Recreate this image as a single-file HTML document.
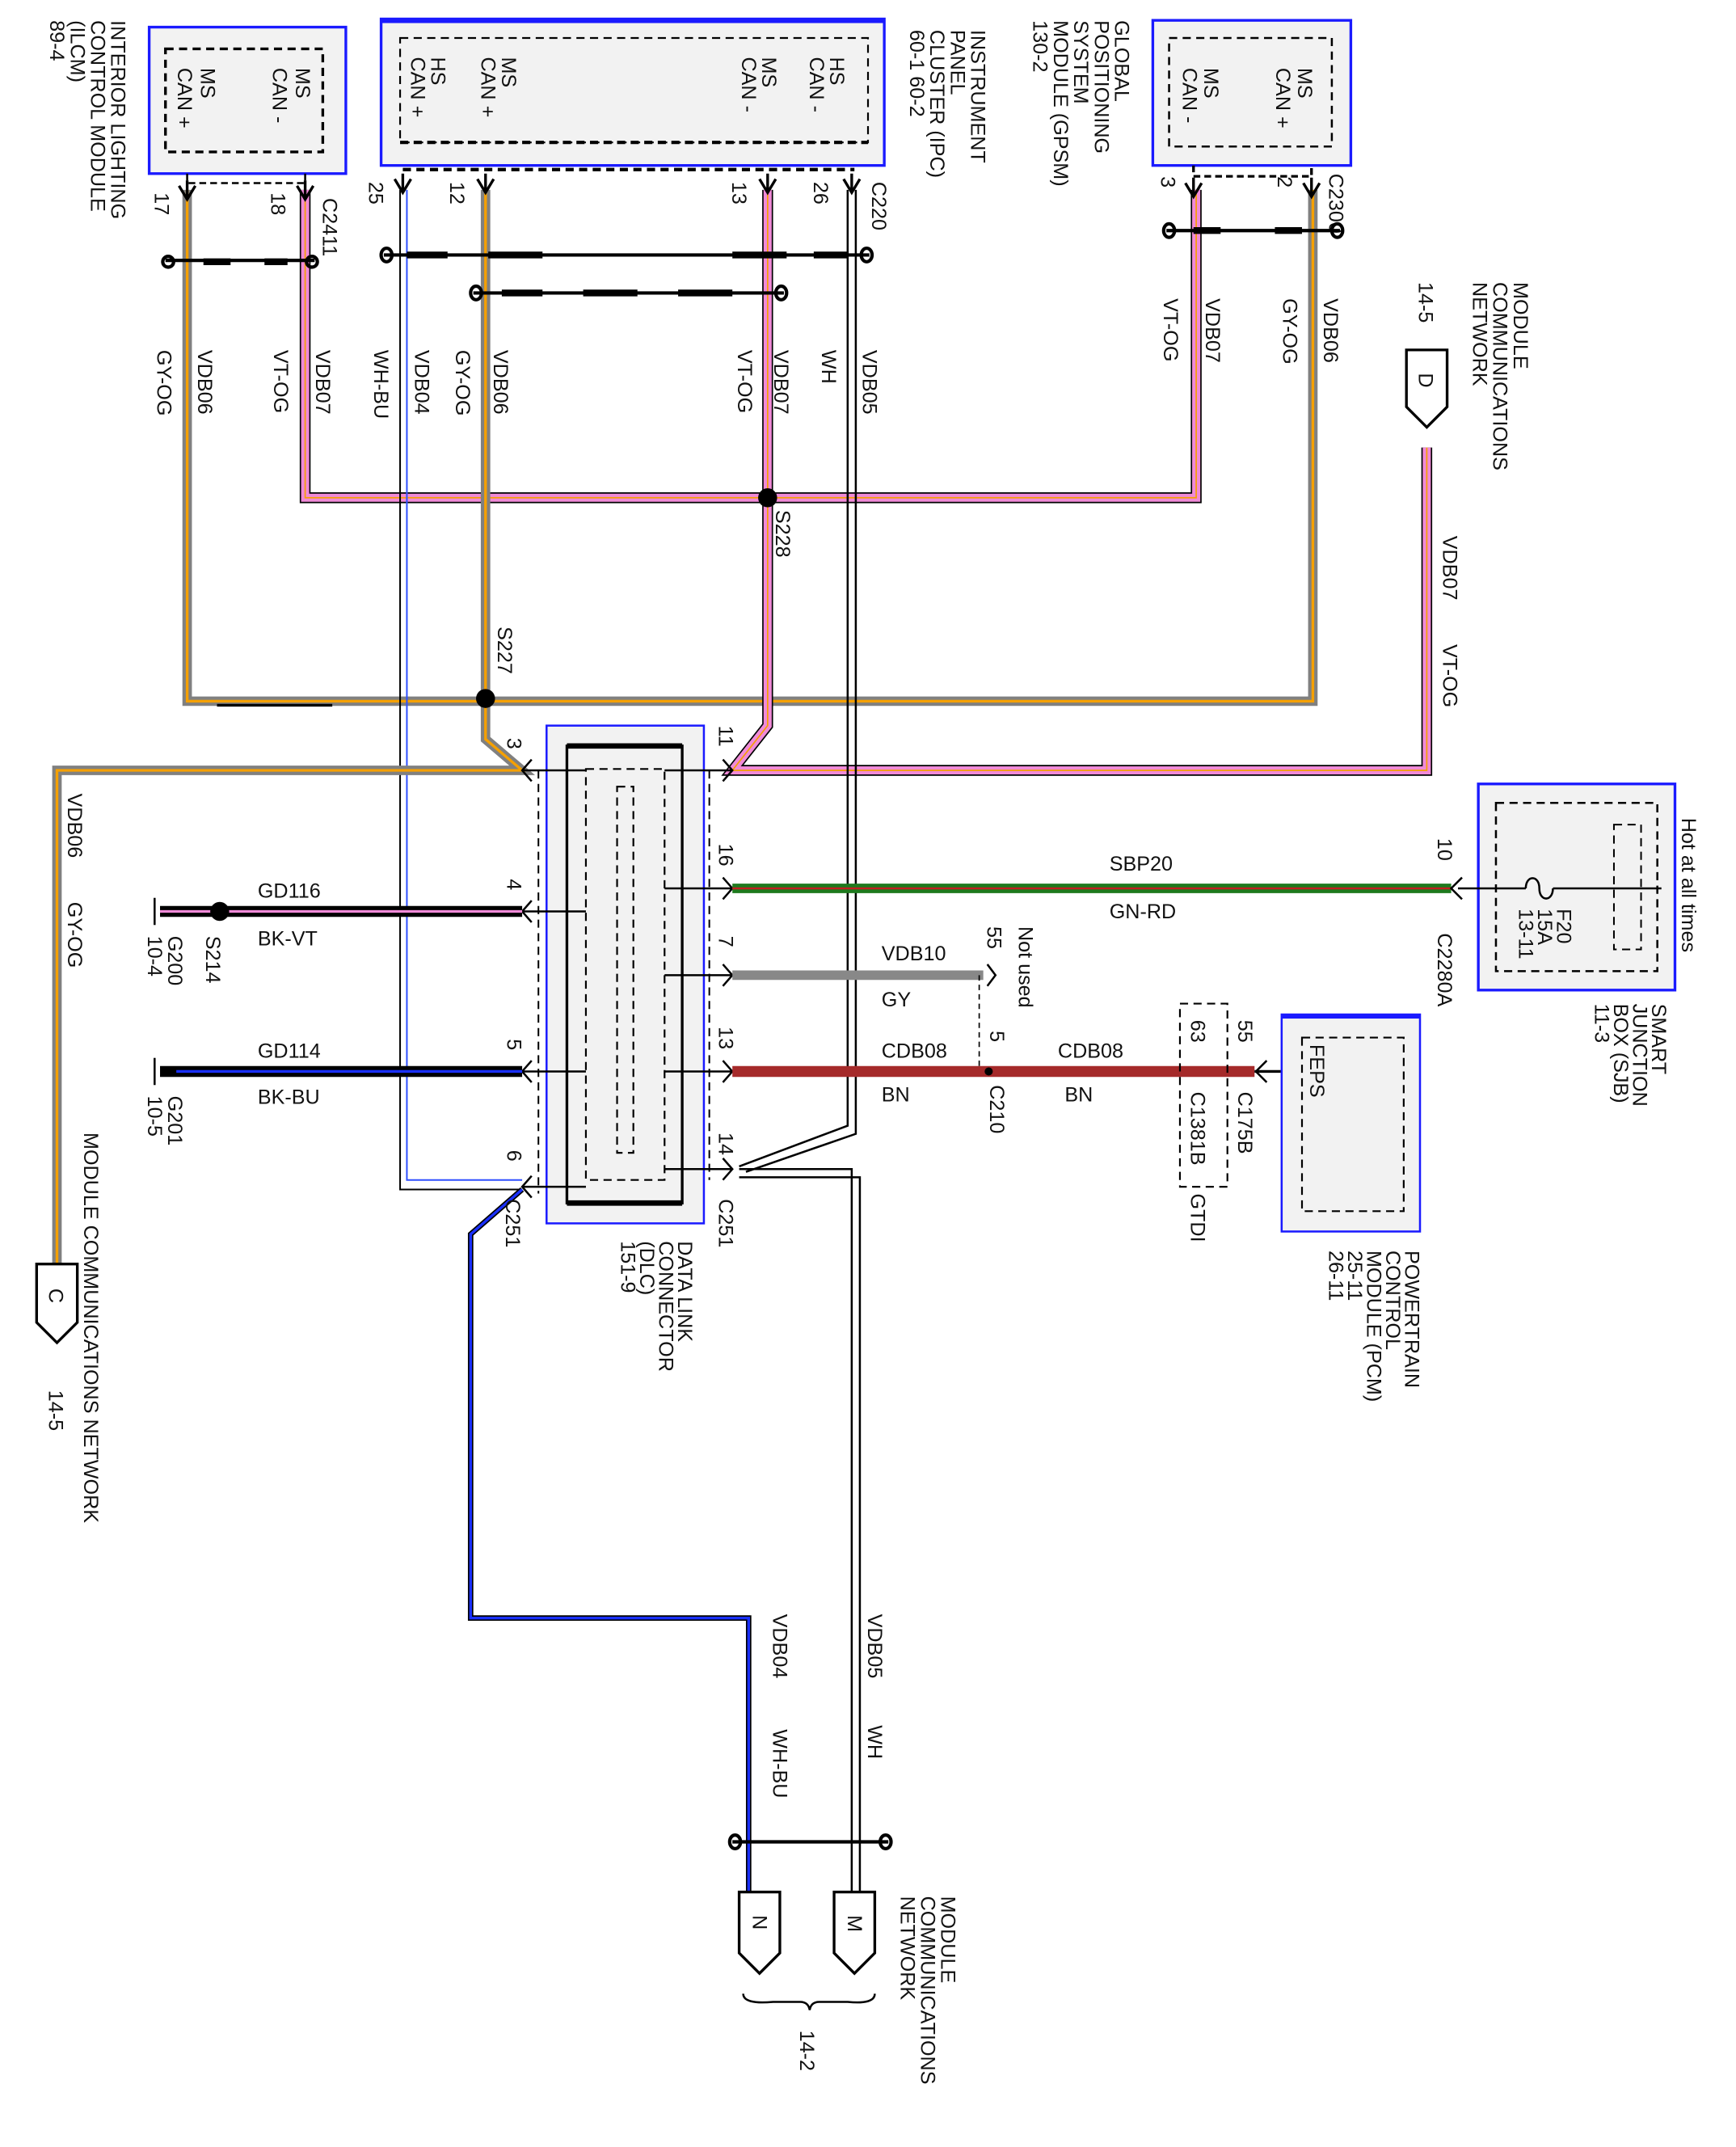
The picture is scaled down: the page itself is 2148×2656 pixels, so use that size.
<!DOCTYPE html>
<html><head><meta charset="utf-8"><style>
html,body{margin:0;padding:0;background:#fff;}
svg{display:block}
text{font-family:"Liberation Sans",sans-serif;fill:#111;}
</style></head><body>
<svg width="2148" height="2656" viewBox="0 0 1280 1583" preserveAspectRatio="none" xmlns="http://www.w3.org/2000/svg">
<defs>
<g id="dn"><path d="M-6,-8 L0,2 L6,-8 M0,-12 L0,2" stroke="#000" stroke-width="2" fill="none"/></g>
</defs>
<g font-size="15">
<!-- ILCM -->
<rect x="110" y="20" width="145" height="108" fill="#f2f2f2" stroke="#1a1aff" stroke-width="2"/>
<rect x="122" y="36" width="116" height="76" fill="none" stroke="#000" stroke-width="2" stroke-dasharray="6,4"/>
<text transform="translate(148,50) rotate(90)">MS<tspan x="0" dy="17">CAN +</tspan></text>
<text transform="translate(218,50) rotate(90)">MS<tspan x="0" dy="17">CAN -</tspan></text>
<text transform="translate(82,15) rotate(90)">INTERIOR LIGHTING<tspan x="0" dy="15">CONTROL MODULE</tspan><tspan x="0" dy="15">(ILCM)</tspan><tspan x="0" dy="15">89-4</tspan></text>
<path d="M138,128 V135 H225 V128" stroke="#000" stroke-width="1.5" fill="none" stroke-dasharray="5,3"/>
<text transform="translate(114,142) rotate(90)">17</text>
<text transform="translate(200,142) rotate(90)">18</text>
<text transform="translate(238,146) rotate(90)">C2411</text>

<!-- IPC -->
<rect x="281" y="14" width="371" height="108" fill="#f2f2f2" stroke="#1a1aff" stroke-width="2"/>
<rect x="281" y="14" width="371" height="3" fill="#1a1aff"/>
<rect x="295" y="28" width="345" height="77" fill="none" stroke="#000" stroke-width="1.3" stroke-dasharray="6,4"/>
<path d="M295,105 H640" stroke="#000" stroke-width="2.5" stroke-dasharray="6,4"/>
<path d="M297,125 H630" stroke="#000" stroke-width="2.5" stroke-dasharray="6,4"/>
<text transform="translate(318,42) rotate(90)">HS<tspan x="0" dy="15">CAN +</tspan></text>
<text transform="translate(370,42) rotate(90)">MS<tspan x="0" dy="15">CAN +</tspan></text>
<text transform="translate(562,42) rotate(90)">MS<tspan x="0" dy="15">CAN -</tspan></text>
<text transform="translate(612,42) rotate(90)">HS<tspan x="0" dy="15">CAN -</tspan></text>
<text transform="translate(272,134) rotate(90)">25</text>
<text transform="translate(332,134) rotate(90)">12</text>
<text transform="translate(540,134) rotate(90)">13</text>
<text transform="translate(600,134) rotate(90)">26</text>
<text transform="translate(643,134) rotate(90)">C220</text>
<text transform="translate(716,22) rotate(90)">INSTRUMENT<tspan x="0" dy="15">PANEL</tspan><tspan x="0" dy="15">CLUSTER (IPC)</tspan><tspan x="0" dy="15">60-1  60-2</tspan></text>

<!-- GPSM -->
<rect x="850" y="15" width="146" height="107" fill="#f2f2f2" stroke="#1a1aff" stroke-width="2"/>
<rect x="862" y="28" width="120" height="80" fill="none" stroke="#000" stroke-width="1.5" stroke-dasharray="6,4"/>
<text transform="translate(957,50) rotate(90)">MS<tspan x="0" dy="16">CAN +</tspan></text>
<text transform="translate(888,50) rotate(90)">MS<tspan x="0" dy="16">CAN -</tspan></text>
<path d="M880,122 V130 H967 V122" stroke="#000" stroke-width="2" fill="none" stroke-dasharray="5,3"/>
<text transform="translate(856,130) rotate(90)">3</text>
<text transform="translate(942,130) rotate(90)">2</text>
<text transform="translate(980,128) rotate(90)">C2300</text>
<text transform="translate(822,15) rotate(90)">GLOBAL<tspan x="0" dy="15">POSITIONING</tspan><tspan x="0" dy="15">SYSTEM</tspan><tspan x="0" dy="15">MODULE (GPSM)</tspan><tspan x="0" dy="15">130-2</tspan></text>

<!-- wires: GY-OG loop -->
<path d="M138,140 V517 H968 V140" fill="none" stroke="#808080" stroke-width="7"/>
<path d="M138,140 V517 H968 V140" fill="none" stroke="#f5a000" stroke-width="2"/>
<path d="M160,520 H245" stroke="#000" stroke-width="2"/>
<!-- VT-OG loop -->
<path d="M225,140 V367 H882 V140" fill="none" stroke="#000" stroke-width="8"/>
<path d="M225,140 V367 H882 V140" fill="none" stroke="#f08ad8" stroke-width="6"/>
<path d="M225,140 V367 H882 V140" fill="none" stroke="#f5a000" stroke-width="1"/>
<!-- pin 25 WH-BU -->
<path d="M295,140 V877 H385" fill="none" stroke="#000" stroke-width="1.2"/>
<path d="M300,140 V870 H385" fill="none" stroke="#3050ff" stroke-width="1.2"/>
<path d="M385,877 L347,910 V1193 H552 V1395" fill="none" stroke="#000" stroke-width="4"/>
<path d="M385,877 L347,910 V1193 H552 V1395" fill="none" stroke="#1a30ff" stroke-width="2"/>
<!-- pin 12 GY-OG -->
<path d="M358,140 V545 L385,568 H42 V932" fill="none" stroke="#808080" stroke-width="7"/>
<path d="M358,140 V545 L385,568 H42 V932" fill="none" stroke="#f5a000" stroke-width="2"/>
<!-- pin 13 VT-OG -->
<path d="M566,140 V535 L540,568 H1052 V330" fill="none" stroke="#000" stroke-width="8"/>
<path d="M566,140 V535 L540,568 H1052 V330" fill="none" stroke="#f08ad8" stroke-width="6"/>
<path d="M566,140 V535 L540,568 H1052 V330" fill="none" stroke="#f5a000" stroke-width="1"/>
<!-- pin 26 WH -->
<path d="M625,140 V830 L545,860" fill="none" stroke="#000" stroke-width="1.5"/>
<path d="M631,140 V836 L550,864" fill="none" stroke="#000" stroke-width="1.5"/>
<path d="M545,862 H628 V1395" fill="none" stroke="#000" stroke-width="1.5"/>
<path d="M545,868 H634 V1395" fill="none" stroke="#000" stroke-width="1.5"/>
<!-- splices -->
<circle cx="566" cy="367" r="7" fill="#000"/>
<circle cx="358" cy="515" r="7" fill="#000"/>
<!-- pin arrows top -->
<use href="#dn" x="138" y="145"/><use href="#dn" x="225" y="145"/>
<use href="#dn" x="297" y="140"/><use href="#dn" x="358" y="140"/><use href="#dn" x="566" y="140"/><use href="#dn" x="628" y="140"/>
<use href="#dn" x="880" y="143"/><use href="#dn" x="967" y="143"/>
<!-- twisted markers -->
<g fill="none" stroke="#000" stroke-width="2.5">
<path d="M122,192 H232"/><ellipse cx="124" cy="193" rx="4" ry="4"/><ellipse cx="230" cy="193" rx="4" ry="4"/>
<path d="M283,188 H641"/><ellipse cx="285" cy="188" rx="4" ry="5"/><ellipse cx="639" cy="188" rx="4" ry="5"/>
<path d="M349,216 H578"/><ellipse cx="351" cy="216" rx="4" ry="5"/><ellipse cx="576" cy="216" rx="4" ry="5"/>
<path d="M860,170 H988"/><ellipse cx="862" cy="170" rx="4" ry="5"/><ellipse cx="986" cy="170" rx="4" ry="5"/>
<path d="M540,1358 H655"/><ellipse cx="542" cy="1358" rx="4" ry="5"/><ellipse cx="653" cy="1358" rx="4" ry="5"/>
</g>
<g stroke="#000" stroke-width="5">
<path d="M150,193 H170 M195,193 H212 M300,188 H330 M360,188 H400 M540,188 H580 M600,188 H625 M370,216 H400 M430,216 H470 M500,216 H540 M880,170 H900 M940,170 H960"/>
</g>
<!-- wire labels -->
<text transform="translate(146,258) rotate(90)">VDB06</text><text transform="translate(116,258) rotate(90)">GY-OG</text>
<text transform="translate(233,258) rotate(90)">VDB07</text><text transform="translate(202,258) rotate(90)">VT-OG</text>
<text transform="translate(306,258) rotate(90)">VDB04</text><text transform="translate(276,258) rotate(90)">WH-BU</text>
<text transform="translate(364,258) rotate(90)">VDB06</text><text transform="translate(336,258) rotate(90)">GY-OG</text>
<text transform="translate(571,258) rotate(90)">VDB07</text><text transform="translate(544,258) rotate(90)">VT-OG</text>
<text transform="translate(636,258) rotate(90)">VDB05</text><text transform="translate(606,258) rotate(90)">WH</text>
<text transform="translate(889,220) rotate(90)">VDB07</text><text transform="translate(858,220) rotate(90)">VT-OG</text>
<text transform="translate(976,220) rotate(90)">VDB06</text><text transform="translate(946,220) rotate(90)">GY-OG</text>
<text transform="translate(572,376) rotate(90)">S228</text>
<text transform="translate(367,462) rotate(90)">S227</text>

<!-- D connector -->
<path d="M1037,258 H1067 V300 L1052,315 L1037,300 Z" fill="#fff" stroke="#000" stroke-width="2"/>
<text transform="translate(1046,275) rotate(90)">D</text>
<text transform="translate(1116,208) rotate(90)">MODULE<tspan x="0" dy="15">COMMUNICATIONS</tspan><tspan x="0" dy="15">NETWORK</tspan></text>
<text transform="translate(1046,208) rotate(90)">14-5</text>
<text transform="translate(1064,395) rotate(90)">VDB07</text>
<text transform="translate(1064,475) rotate(90)">VT-OG</text>

<!-- DLC -->
<rect x="403" y="535" width="116" height="367" fill="#f2f2f2" stroke="#1a1aff" stroke-width="1.5"/>
<rect x="418" y="550" width="85" height="337" fill="none" stroke="#000" stroke-width="2"/>
<path d="M418,550 H503 M418,887 H503" stroke="#000" stroke-width="4"/>
<rect x="432" y="567" width="58" height="303" fill="none" stroke="#000" stroke-width="1.3" stroke-dasharray="6,4"/>
<rect x="455" y="580" width="12" height="270" fill="none" stroke="#000" stroke-width="1.3" stroke-dasharray="6,4"/>
<path d="M397,568 V880 M523,568 V870" stroke="#000" stroke-width="1.2" stroke-dasharray="6,4"/>
<g stroke="#000" stroke-width="1.5" fill="none">
<path d="M385,568 H432 M385,672 H432 M385,790 H432 M385,875 H432"/>
<path d="M490,568 H540 M490,655 H540 M490,719 H540 M490,790 H540 M490,862 H540"/>
<path d="M392,560 L385,568 L392,576 M392,664 L385,672 L392,680 M392,782 L385,790 L392,798 M392,867 L385,875 L392,883"/>
<path d="M533,560 L540,568 L533,576 M533,647 L540,655 L533,663 M533,711 L540,719 L533,727 M533,782 L540,790 L533,798 M533,854 L540,862 L533,870"/>
</g>
<text transform="translate(374,544) rotate(90)">3</text>
<text transform="translate(374,648) rotate(90)">4</text>
<text transform="translate(374,766) rotate(90)">5</text>
<text transform="translate(374,848) rotate(90)">6</text>
<text transform="translate(530,535) rotate(90)">11</text>
<text transform="translate(530,622) rotate(90)">16</text>
<text transform="translate(530,690) rotate(90)">7</text>
<text transform="translate(530,757) rotate(90)">13</text>
<text transform="translate(530,835) rotate(90)">14</text>
<text transform="translate(373,884) rotate(90)">C251</text>
<text transform="translate(530,884) rotate(90)">C251</text>
<text transform="translate(500,915) rotate(90)">DATA LINK<tspan x="0" dy="14">CONNECTOR</tspan><tspan x="0" dy="14">(DLC)</tspan><tspan x="0" dy="14">151-9</tspan></text>

<!-- grounds -->
<path d="M118,672 H385" stroke="#000" stroke-width="8"/>
<path d="M118,672 H385" stroke="#f08ad8" stroke-width="2"/>
<path d="M114,662 V682" stroke="#000" stroke-width="1.5"/>
<circle cx="162" cy="672" r="7" fill="#000"/>
<path d="M118,790 H385" stroke="#000" stroke-width="8"/>
<path d="M130,790 H385" stroke="#1a30ff" stroke-width="2"/>
<path d="M114,780 V800" stroke="#000" stroke-width="1.5"/>
<text x="190" y="662">GD116</text><text x="190" y="697">BK-VT</text>
<text x="190" y="780">GD114</text><text x="190" y="814">BK-BU</text>
<text transform="translate(152,690) rotate(90)">S214</text>
<text transform="translate(124,690) rotate(90)">G200<tspan x="0" dy="15">10-4</tspan></text>
<text transform="translate(124,808) rotate(90)">G201<tspan x="0" dy="15">10-5</tspan></text>

<!-- left C connector -->
<text transform="translate(50,585) rotate(90)">VDB06</text>
<text transform="translate(50,665) rotate(90)">GY-OG</text>
<path d="M27,932 H57 V975 L42,990 L27,975 Z" fill="#fff" stroke="#000" stroke-width="2"/>
<text transform="translate(36,950) rotate(90)">C</text>
<text transform="translate(62,835) rotate(90)">MODULE COMMUNICATIONS NETWORK</text>
<text transform="translate(36,1025) rotate(90)">14-5</text>

<!-- right wires -->
<path d="M540,655 H1070" stroke="#1e7a1e" stroke-width="7"/>
<path d="M540,655 H1070" stroke="#c02020" stroke-width="1.5"/>
<text x="818" y="642">SBP20</text><text x="818" y="677">GN-RD</text>
<text transform="translate(1060,618) rotate(90)">10</text>
<text transform="translate(1060,688) rotate(90)">C2280A</text>
<path d="M1078,647 L1070,655 L1078,663" stroke="#000" stroke-width="1.5" fill="none"/>
<rect x="1090" y="578" width="145" height="152" fill="#f2f2f2" stroke="#1a1aff" stroke-width="2"/>
<rect x="1103" y="592" width="119" height="124" fill="none" stroke="#000" stroke-width="1.5" stroke-dasharray="6,4"/>
<rect x="1190" y="608" width="20" height="92" fill="none" stroke="#000" stroke-width="1.2" stroke-dasharray="6,4"/>
<path d="M1075,655 H1125 M1145,655 H1225" stroke="#000" stroke-width="1.5"/>
<path d="M1125,655 C1125,645 1135,645 1135,655 C1135,665 1145,665 1145,655" stroke="#000" stroke-width="1.5" fill="none"/>
<text transform="translate(1148,670) rotate(90)">F20<tspan x="0" dy="14">15A</tspan><tspan x="0" dy="14">13-11</tspan></text>
<text transform="translate(1240,603) rotate(90)">Hot at all times</text>
<text transform="translate(1218,740) rotate(90)">SMART<tspan x="0" dy="14">JUNCTION</tspan><tspan x="0" dy="14">BOX (SJB)</tspan><tspan x="0" dy="14">11-3</tspan></text>

<path d="M540,719 H725" stroke="#888" stroke-width="7"/>
<path d="M728,711 L734,719 L728,727" stroke="#000" stroke-width="1.5" fill="none"/>
<text x="650" y="708">VDB10</text><text x="650" y="742">GY</text>
<text transform="translate(728,683) rotate(90)">55</text>
<text transform="translate(751,683) rotate(90)">Not used</text>
<path d="M722,719 V790" stroke="#000" stroke-width="1" stroke-dasharray="4,3"/>
<path d="M540,790 H925" stroke="#a52a2a" stroke-width="8"/>
<circle cx="729" cy="790" r="3" fill="#000"/>
<path d="M925,790 H945" stroke="#000" stroke-width="2"/>
<path d="M934,782 L926,790 L934,798" stroke="#000" stroke-width="1.5" fill="none"/>
<text x="650" y="780">CDB08</text><text x="650" y="812">BN</text>
<text x="780" y="780">CDB08</text><text x="785" y="812">BN</text>
<text transform="translate(730,760) rotate(90)">5</text>
<text transform="translate(730,800) rotate(90)">C210</text>
<rect x="870" y="740" width="35" height="135" fill="none" stroke="#000" stroke-width="1.3" stroke-dasharray="6,4"/>
<text transform="translate(878,752) rotate(90)">63</text>
<text transform="translate(878,805) rotate(90)">C1381B</text>
<text transform="translate(913,752) rotate(90)">55</text>
<text transform="translate(913,805) rotate(90)">C175B</text>
<text transform="translate(878,880) rotate(90)">GTDI</text>
<rect x="945" y="748" width="102" height="160" fill="#f2f2f2" stroke="#1a1aff" stroke-width="1.5"/>
<rect x="945" y="748" width="102" height="3" fill="#1a1aff"/>
<rect x="960" y="765" width="75" height="128" fill="none" stroke="#000" stroke-width="1.3" stroke-dasharray="6,4"/>
<text transform="translate(966,770) rotate(90)">FEPS</text>
<text transform="translate(1036,922) rotate(90)">POWERTRAIN<tspan x="0" dy="14">CONTROL</tspan><tspan x="0" dy="14">MODULE (PCM)</tspan><tspan x="0" dy="14">25-11</tspan><tspan x="0" dy="14">26-11</tspan></text>

<!-- bottom -->
<text transform="translate(570,1190) rotate(90)">VDB04</text>
<text transform="translate(570,1275) rotate(90)">WH-BU</text>
<text transform="translate(640,1190) rotate(90)">VDB05</text>
<text transform="translate(640,1272) rotate(90)">WH</text>
<path d="M545,1395 H575 V1440 L560,1455 L545,1440 Z" fill="#fff" stroke="#000" stroke-width="2"/>
<path d="M615,1395 H645 V1440 L630,1455 L615,1440 Z" fill="#fff" stroke="#000" stroke-width="2"/>
<text transform="translate(555,1412) rotate(90)">N</text>
<text transform="translate(625,1412) rotate(90)">M</text>
<path d="M548,1470 Q548,1478 570,1476 L590,1476 Q596,1476 597,1482 Q598,1476 604,1476 L625,1476 Q645,1478 645,1470" stroke="#000" stroke-width="1.5" fill="none"/>
<text transform="translate(590,1497) rotate(90)">14-2</text>
<text transform="translate(694,1398) rotate(90)">MODULE<tspan x="0" dy="15">COMMUNICATIONS</tspan><tspan x="0" dy="15">NETWORK</tspan></text>
</g>
</svg>
</body></html>
